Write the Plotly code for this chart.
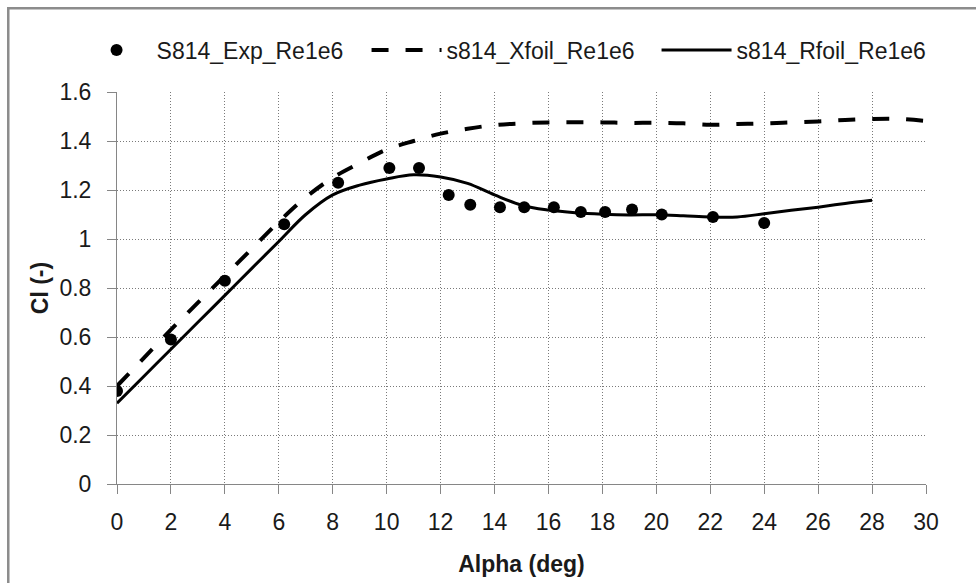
import plotly.graph_objects as go

# Experimental data
exp_alpha = [0, 2, 4, 6.2, 8.2, 10.1, 11.2, 12.3, 13.1, 14.2, 15.1, 16.2, 17.2, 18.1, 19.1, 20.2, 22.1, 24.0]
exp_cl = [0.38, 0.59, 0.83, 1.06, 1.23, 1.29, 1.29, 1.18, 1.14, 1.13, 1.13, 1.13, 1.11, 1.11, 1.12, 1.10, 1.09, 1.065]

# Xfoil
xfoil_alpha = list(range(0, 31))
xfoil_cl = [0.40, 0.515, 0.63, 0.74, 0.85, 0.96, 1.07, 1.17, 1.25, 1.31, 1.365, 1.40, 1.43, 1.45, 1.465,
            1.472, 1.476, 1.477, 1.476, 1.474, 1.474, 1.472, 1.466, 1.469, 1.472, 1.476, 1.48, 1.486,
            1.49, 1.49, 1.482]

# Rfoil
rfoil_alpha = list(range(0, 29))
rfoil_cl = [0.33, 0.44, 0.55, 0.66, 0.77, 0.88, 0.99, 1.10, 1.18, 1.22, 1.245, 1.262, 1.253, 1.227, 1.18,
            1.138, 1.118, 1.107, 1.101, 1.098, 1.099, 1.095, 1.09, 1.09, 1.103, 1.117, 1.13, 1.145, 1.158]

x_ticks = list(range(0, 31, 2))
y_ticks = [0, 0.2, 0.4, 0.6, 0.8, 1.0, 1.2, 1.4, 1.6]
y_tick_text = ["0", "0.2", "0.4", "0.6", "0.8", "1", "1.2", "1.4", "1.6"]

FONT = "Liberation Sans, Arial, sans-serif"
TXT = "#1a1a1a"
AX = "#868686"
GRID = "#7a7a7a"

fig = go.Figure()
fig.add_trace(go.Scatter(x=exp_alpha, y=exp_cl, mode="markers", name="S814_Exp_Re1e6",
                         marker=dict(color="black", size=12)))
fig.add_trace(go.Scatter(x=xfoil_alpha, y=xfoil_cl, mode="lines", name="s814_Xfoil_Re1e6",
                         line=dict(color="black", width=4, dash="17px,17px", shape="spline")))
fig.add_trace(go.Scatter(x=rfoil_alpha, y=rfoil_cl, mode="lines", name="s814_Rfoil_Re1e6",
                         line=dict(color="black", width=3, shape="spline")))

fig.update_layout(
    width=976, height=583,
    margin=dict(l=117, r=50, t=92, b=99),
    paper_bgcolor="white", plot_bgcolor="white",
    font=dict(family=FONT, size=23, color=TXT),
    showlegend=True,
    legend=dict(orientation="h", x=-0.05, xanchor="left", y=1.107, yanchor="middle",
                itemwidth=70, entrywidth=205, font=dict(size=23, color=TXT),
                bgcolor="rgba(0,0,0,0)", tracegroupgap=0),
    xaxis=dict(range=[0, 30], tickvals=x_ticks, showline=True, linecolor=AX, linewidth=1,
               ticks="outside", ticklen=9, tickcolor=AX, showgrid=True, gridcolor=GRID,
               griddash="1px,2px", gridwidth=1, zeroline=False, ticklabelstandoff=8,
               title=dict(text="<b>Alpha (deg)</b>", standoff=22, font=dict(size=23)),
               tickfont=dict(size=23), automargin=False),
    yaxis=dict(range=[0, 1.6], tickvals=y_ticks, ticktext=y_tick_text, showline=True, linecolor=AX,
               linewidth=1, ticks="outside", ticklen=9, tickcolor=AX, showgrid=True, gridcolor=GRID,
               griddash="1px,2px", gridwidth=1, zeroline=False, ticklabelstandoff=11,
               title=dict(text="<b>Cl (-)</b>", standoff=4, font=dict(size=23)),
               tickfont=dict(size=23), automargin=False),
    shapes=[dict(type="rect", xref="paper", yref="paper", x0=-0.1344, x1=1.08, y0=-0.3, y1=1.2135,
                 line=dict(color="#8c8c8c", width=2.5), fillcolor="rgba(0,0,0,0)", layer="below")],
)

fig.write_html("out.html")
